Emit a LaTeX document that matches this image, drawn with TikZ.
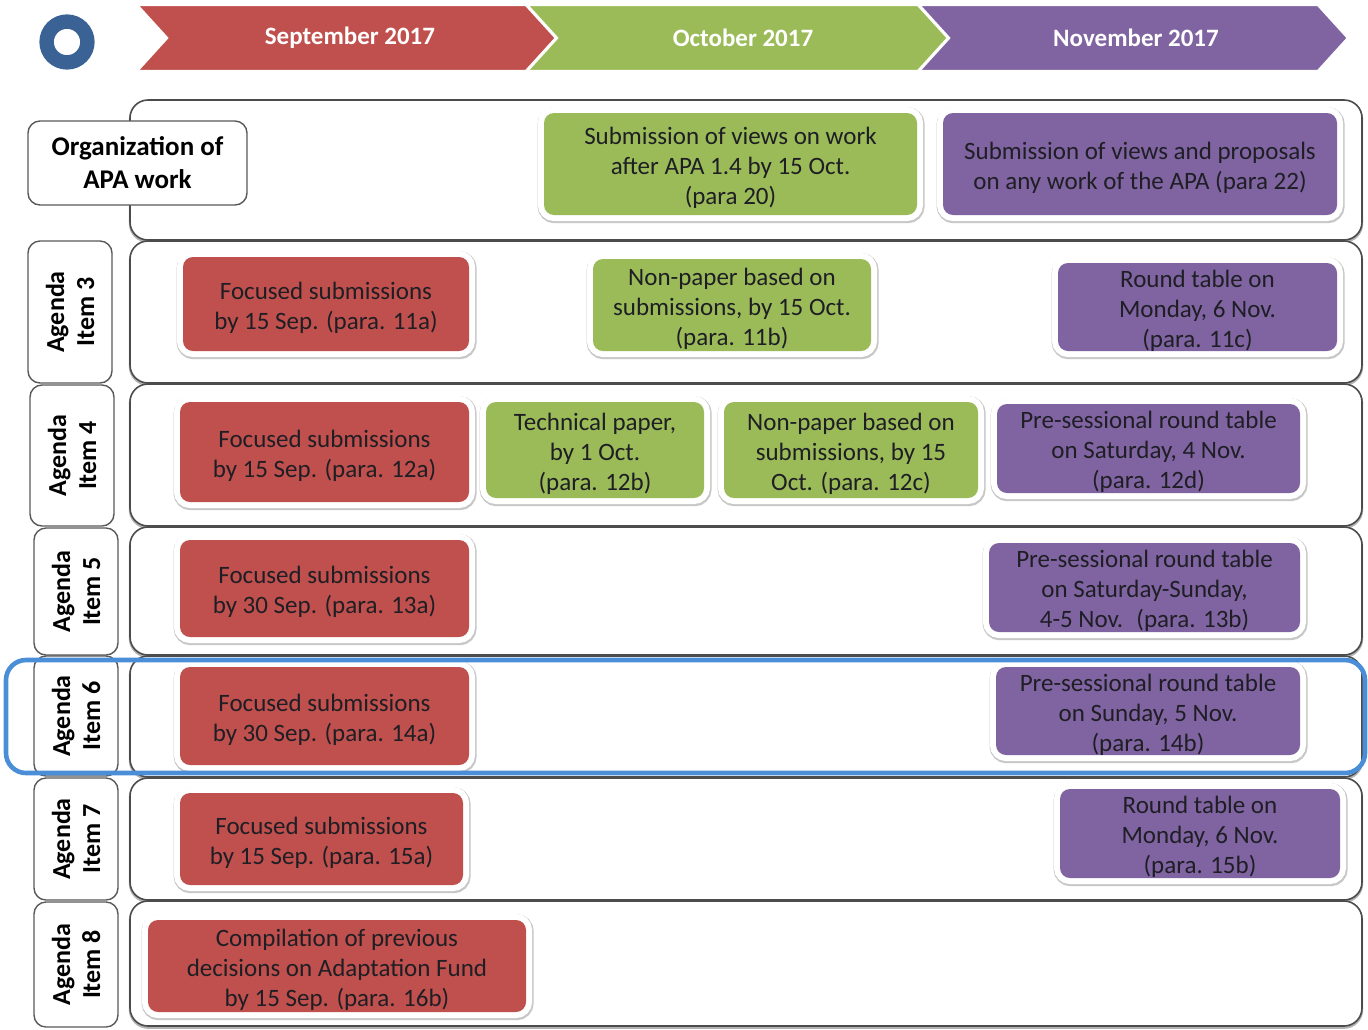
\documentclass[tikz,border=0pt]{standalone}
\usepackage{fontspec}
\setmainfont{Carlito}
\usetikzlibrary{fit}
\definecolor{cred}{HTML}{C0504D}
\definecolor{cgreen}{HTML}{9BBB59}
\definecolor{cpurple}{HTML}{8064A2}
\definecolor{cnavy}{HTML}{3B6294}
\definecolor{chl}{HTML}{4A8ED8}
\definecolor{ctext}{HTML}{1E1E24}
\tikzset{
 chev/.style={draw=white, line width=1.2pt, line join=miter},
 month/.style={text=white, font=\fontsize{12.5}{15}\selectfont\bfseries},
 rowframe/.style={draw=black!70, line width=0.8pt, rounded corners=9pt, fill=white,
   preaction={draw=black!30, line width=1.2pt, transform canvas={yshift=-0.8pt}}},
 pbox/.style={fill=#1, rounded corners=5pt, inner sep=0pt,
   preaction={draw=black!22, line width=7pt, transform canvas={xshift=0.3pt, yshift=-0.6pt}},
   preaction={draw=white, line width=6pt}},
 ptext/.style={align=center, text=ctext, inner sep=0pt, font=\fontsize{12.5}{15}\selectfont},
 lblbox/.style={draw=black!65, line width=0.7pt, fill=white, rounded corners=6pt, inner sep=0pt},
 lbltext/.style={align=center, font=\fontsize{13}{15}\selectfont\bfseries, text=black},
}
\newcommand{\pbx}[7]{\node[pbox=#2, minimum width={(#5-#3)*0.5pt}, minimum height={(#6-#4)*0.5pt}] (#1) at ({(#3+#5)/2},{(#4+#6)/2}) {};
\node[ptext, yshift=-1.7pt] (#1t) at (#1.center) {#7};}
\begin{document}
\begin{tikzpicture}[x=0.5pt,y=-0.5pt]
\useasboundingbox (0,0) rectangle (1368,1029);
% header
\draw[cnavy, line width=7.2pt] (67,42) circle[radius=10.2pt];
\path[fill=cred, chev] (137,5) -- (526,5) -- (556,38) -- (526,71) -- (137,71) -- (167,38) -- cycle;
\path[fill=cgreen, chev] (527,5) -- (918,5) -- (948,38) -- (918,71) -- (527,71) -- (557,38) -- cycle;
\path[fill=cpurple, chev] (919,5) -- (1318,5) -- (1348,38) -- (1318,71) -- (919,71) -- (949,38) -- cycle;
\node[month] (msep) at (350,38) {September 2017};
\node[month] (moct) at (743,38) {October 2017};
\node[month] (mnov) at (1136,38) {November 2017};
% row frames
\path[rowframe] (130,100) rectangle (1362,240);
\path[rowframe] (130,241) rectangle (1362,383);
\path[rowframe] (130,384) rectangle (1362,526);
\path[rowframe] (130,527) rectangle (1362,655);
\path[rowframe] (130,656) rectangle (1362,777);
\path[rowframe] (130,778) rectangle (1362,900);
\path[rowframe] (130,901) rectangle (1362,1026);
% labels
\node[lblbox, fit={(28,121) (247,205)}] (org) {};
\node[lbltext, font=\fontsize{13.5}{16.5}\selectfont\bfseries] (orgt) at (org.center) {Organization of\\APA work};
\node[lblbox, fit={(28,241) (112,383)}] (ag3) {};
\node[lblbox, fit={(30,385) (114,526)}] (ag4) {};
\node[lblbox, fit={(34,528) (118,655)}] (ag5) {};
\node[lblbox, fit={(34,656) (118,776)}] (ag6) {};
\node[lblbox, fit={(34,778) (118,900)}] (ag7) {};
\node[lblbox, fit={(34,902) (118,1027)}] (ag8) {};
\node[lbltext, rotate=90] (t3) at (ag3) {Agenda\\Item 3};
\node[lbltext, rotate=90] (t4) at (ag4) {Agenda\\Item 4};
\node[lbltext, rotate=90] (t5) at (ag5) {Agenda\\Item 5};
\node[lbltext, rotate=90] (t6) at (ag6) {Agenda\\Item 6};
\node[lbltext, rotate=90] (t7) at (ag7) {Agenda\\Item 7};
\node[lbltext, rotate=90] (t8) at (ag8) {Agenda\\Item 8};
% boxes
\pbx{o1}{cgreen}{544}{113}{917}{215}{Submission of views on work\\after APA 1.4 by 15 Oct.\\(para 20)}
\pbx{o2}{cpurple}{943}{113}{1337}{215}{Submission of views and proposals\\on any work of the APA (para 22)}
\pbx{a3r}{cred}{183}{257}{469}{351}{Focused submissions\\by 15 Sep. (para. 11a)}
\pbx{a3g}{cgreen}{593}{259}{871}{351}{Non-paper based on\\submissions, by 15 Oct.\\(para. 11b)}
\pbx{a3p}{cpurple}{1058}{263}{1337}{351}{Round table on\\Monday, 6 Nov.\\(para. 11c)}
\pbx{a4r}{cred}{180}{402}{469}{502}{Focused submissions\\by 15 Sep. (para. 12a)}
\pbx{a4g}{cgreen}{486}{402}{704}{498}{Technical paper,\\by 1 Oct.\\(para. 12b)}
\pbx{a4h}{cgreen}{724}{402}{978}{498}{Non-paper based on\\submissions, by 15\\Oct. (para. 12c)}
\pbx{a4p}{cpurple}{997}{404}{1300}{493}{Pre-sessional round table\\on Saturday, 4 Nov.\\(para. 12d)}
\pbx{a5r}{cred}{180}{540}{469}{637}{Focused submissions\\by 30 Sep. (para. 13a)}
\pbx{a5p}{cpurple}{989}{543}{1300}{632}{Pre-sessional round table\\on Saturday-Sunday,\\4-5 Nov.~ (para. 13b)}
\pbx{a6r}{cred}{180}{667}{469}{765}{Focused submissions\\by 30 Sep. (para. 14a)}
\pbx{a6p}{cpurple}{996}{667}{1300}{755}{Pre-sessional round table\\on Sunday, 5 Nov.\\(para. 14b)}
\pbx{a7r}{cred}{180}{793}{463}{885}{Focused submissions\\by 15 Sep. (para. 15a)}
\pbx{a7p}{cpurple}{1060}{789}{1340}{878}{Round table on\\Monday, 6 Nov.\\(para. 15b)}
\pbx{a8r}{cred}{148}{920}{526}{1012}{Compilation of previous\\decisions on Adaptation Fund\\by 15 Sep. (para. 16b)}
% highlight
\draw[chl, line width=2.3pt, rounded corners=10pt] (6,660) rectangle (1365,773);
\end{tikzpicture}
\end{document}
